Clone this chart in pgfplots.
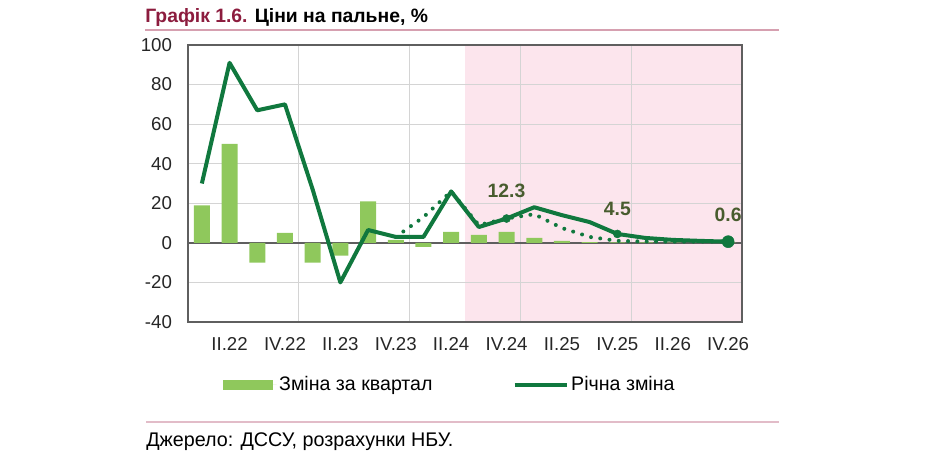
\documentclass[border=0pt]{standalone}
\usepackage{pgfplots}
\pgfplotsset{compat=1.18}
\usepackage{fontspec}
\setmainfont{Liberation Sans}

\definecolor{linegreen}{RGB}{16,120,62}
\definecolor{bargreen}{RGB}{143,200,92}
\definecolor{fcpink}{RGB}{252,229,237}
\definecolor{gridgray}{RGB}{212,212,212}
\definecolor{framegray}{RGB}{95,95,95}
\definecolor{titlered}{RGB}{140,28,62}
\definecolor{ruleline}{RGB}{214,160,176}
\definecolor{lblolive}{RGB}{72,92,46}

\begin{document}
\begin{tikzpicture}
% page frame in pixel units of the reference (y downwards)
\begin{scope}[x=0.75pt,y=-0.75pt]
  \useasboundingbox (0,0) rectangle (927,460);
  \node[anchor=base west, inner sep=0pt, font=\bfseries\fontsize{14.5}{17}\selectfont]
    at (145,23) {\textcolor{titlered}{Графік 1.6.} Ціни на пальне, \%};
  \draw[ruleline, line width=1pt] (145,30) -- (779,30);
  \draw[ruleline!70, line width=1pt] (146,422) -- (779,422);
  \node[anchor=base west, inner sep=0pt, font=\fontsize{14.8}{17}\selectfont]
    at (146,446) {Джерело: ДССУ, розрахунки НБУ.};
\end{scope}

\begin{axis}[
    at={(141pt,-241.5pt)}, anchor=south west,
    scale only axis, width=415.5pt, height=207.75pt,
    set layers, clip=false,
    xmin=-0.5, xmax=19.5, ymin=-40, ymax=100,
    ytick={-40,-20,...,100},
    xtick={1,3,...,19},
    xticklabels={II.22,IV.22,II.23,IV.23,II.24,IV.24,II.25,IV.25,II.26,IV.26},
    minor xtick={3.5,7.5,11.5,15.5},
    xminorgrids, ymajorgrids,
    grid style={gridgray, line width=0.8pt},
    minor grid style={gridgray, line width=0.8pt},
    tick style={draw=none},
    axis line style={framegray, line width=1.2pt},
    extra y ticks={0}, extra y tick labels={},
    extra y tick style={grid style={framegray, line width=1.2pt}},
    /pgf/number format/assume math mode=true,
    tick label style={font=\fontsize{14}{14}\selectfont, text=black!85},
    yticklabel style={xshift=-8.5pt},
    xticklabel style={yshift=-8pt},
    legend style={at={(0.063,-0.227)}, anchor=west, draw=none, fill=none,
      inner sep=0pt, font=\fontsize{14.7}{15}\selectfont,
      /tikz/every even column/.append style={column sep=58pt}},
    legend columns=2, legend cell align=left,
]
\begin{pgfonlayer}{axis background}
  \fill[fcpink] (axis cs:9.5,-40) rectangle (axis cs:19.5,100);
\end{pgfonlayer}

% quarterly change, I.22 ... IV.26
\addplot[ybar, bar width=12pt, fill=bargreen, draw=none,
  legend image code/.code={\fill[bargreen] (0pt,-3.5pt) rectangle (37pt,3.5pt);
    \path (0pt,0pt) -- (40pt,0pt);}]
coordinates {
  (0,19) (1,50) (2,-10) (3,5) (4,-10) (5,-6.5) (6,21) (7,1.5) (8,-2) (9,5.5)
  (10,4) (11,5.5) (12,2.5) (13,1) (14,0.4) (15,0.3) (16,0.2) (17,0.1) (18,0.1) (19,0.1)
};
\addlegendentry{Зміна за квартал}

% annual change
\addplot[linegreen, line width=3pt, line join=round,
  legend image code/.code={\draw[linegreen, line width=3pt] (0pt,0pt) -- (39pt,0pt);}]
coordinates {
  (0,30) (1,91) (2,67) (3,70) (4,27) (5,-20) (6,6.5) (7,3) (8,3) (9,26)
  (10,8) (11,12.3) (12,18) (13,14) (14,10.5) (15,4.5) (16,2.5) (17,1.5) (18,1) (19,0.6)
};
\addlegendentry{Річна зміна}

% previous forecast (dotted)
\addplot[forget plot, linegreen, line width=3pt, line cap=round,
  dash pattern=on 0pt off 7pt]
coordinates {
  (7,3) (8,13) (9,26) (10,9) (11,12.3) (12,14.5) (13,7.5) (14,3) (15,1)
  (16,0.7) (17,0.6) (18,0.6) (19,0.6)
};

\addplot[forget plot, only marks, mark=*, mark size=3pt, linegreen]
coordinates {(11,12.3) (15,4.5)};
\addplot[forget plot, only marks, mark=*, mark size=4.5pt, linegreen]
coordinates {(19,0.6)};

\node[anchor=base, inner sep=0pt, font=\bfseries\fontsize{14.5}{14.5}\selectfont, text=lblolive]
  at (axis cs:11,12.3) [yshift=16pt] {12.3};
\node[anchor=base, inner sep=0pt, font=\bfseries\fontsize{14.5}{14.5}\selectfont, text=lblolive]
  at (axis cs:15,4.5) [yshift=14pt] {4.5};
\node[anchor=base, inner sep=0pt, font=\bfseries\fontsize{14.5}{14.5}\selectfont, text=lblolive]
  at (axis cs:19,0.6) [yshift=15pt] {0.6};
\end{axis}
\end{tikzpicture}
\end{document}
